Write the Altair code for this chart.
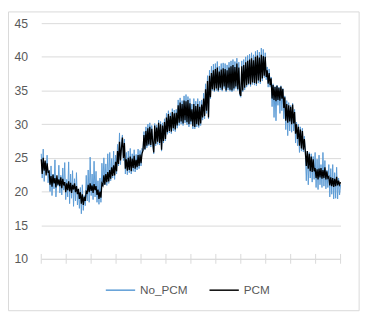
import altair as alt
import pandas as pd

# ---- data (one sample per pixel column, evenly spaced) ----
series_names = ["No_PCM", "PCM"]
series_colors = ["#5B9BD5", "#000000"]
y_ticks = [10, 15, 20, 25, 30, 35, 40, 45]
x_ticks = list(range(13))

no_pcm = [
    25.6, 22.0, 26.3, 21.5, 24.0, 22.8, 25.4, 21.3, 23.2, 20.0,
    23.8, 19.4, 22.6, 20.4, 24.7, 19.2, 22.0, 20.8, 23.9, 19.8,
    22.4, 19.5, 23.5, 20.2, 24.3, 18.8, 21.8, 19.2, 24.4, 18.2,
    22.6, 19.0, 23.1, 17.8, 21.9, 18.6, 22.8, 18.0, 20.2, 17.5,
    20.6, 16.7, 21.0, 17.2, 19.4, 17.9, 22.4, 18.6, 23.2, 18.4,
    25.1, 19.4, 22.6, 18.8, 24.5, 19.2, 23.0, 18.4, 21.6, 18.1,
    22.0, 18.4, 24.2, 20.8, 25.0, 21.0, 24.1, 20.9, 25.6, 21.2,
    25.8, 21.6, 24.9, 22.0, 26.0, 21.8, 25.4, 22.6, 27.0, 23.8,
    28.7, 24.0, 27.4, 28.4, 24.6, 27.8, 22.6, 25.8, 22.5, 26.0,
    22.8, 26.4, 22.6, 25.6, 23.0, 26.2, 22.9, 25.5, 23.2, 26.3,
    23.4, 26.1, 23.8, 26.4, 26.0, 28.9, 26.2, 29.6, 26.5, 30.0,
    26.8, 30.2, 26.6, 29.8, 27.0, 25.6, 30.1, 26.8, 29.9, 27.0,
    30.6, 26.9, 30.4, 26.0, 30.2, 27.2, 30.8, 27.5, 31.6, 28.5,
    32.0, 28.7, 31.7, 28.6, 32.3, 29.0, 32.1, 28.9, 32.2, 29.4,
    33.6, 29.8, 33.9, 30.0, 33.5, 29.8, 34.2, 30.2, 34.4, 29.9,
    34.1, 29.6, 33.8, 30.0, 33.0, 29.3, 33.8, 29.3, 33.4, 29.6,
    33.8, 29.5, 33.4, 29.8, 33.6, 30.6, 34.6, 30.8, 36.0, 31.6,
    37.2, 30.8, 38.0, 33.8, 38.6, 35.0, 38.9, 34.8, 39.0, 35.0,
    39.3, 34.8, 38.6, 35.1, 39.0, 34.9, 39.1, 35.3, 39.0, 34.8,
    38.8, 35.1, 39.2, 34.9, 39.4, 34.8, 39.6, 35.0, 39.3, 35.3,
    39.8, 35.0, 39.2, 34.3, 34.0, 39.4, 34.8, 39.6, 35.1, 40.0,
    35.5, 40.2, 35.8, 40.4, 35.6, 40.6, 35.9, 40.3, 35.8, 40.8,
    35.7, 41.0, 36.1, 40.7, 36.0, 41.3, 36.4, 41.1, 36.9, 40.6,
    36.6, 38.5, 35.5, 38.2, 35.5, 37.0, 32.6, 36.0, 31.0, 35.6,
    30.5, 35.8, 32.8, 35.5, 31.6, 35.7, 32.0, 35.3, 30.8, 34.2,
    29.2, 33.5, 28.3, 33.2, 29.0, 32.8, 28.8, 33.1, 29.0, 32.2,
    27.2, 30.3, 26.8, 30.0, 25.8, 29.6, 26.0, 29.4, 25.9, 28.2,
    25.6, 21.6, 26.0, 21.0, 25.8, 22.0, 25.6, 21.4, 25.2, 21.8,
    25.8, 20.6, 24.8, 20.3, 25.4, 21.0, 24.0, 20.6, 25.8, 20.8,
    24.6, 20.4, 23.2, 20.6, 24.0, 19.2, 23.4, 19.6, 24.0, 18.9,
    22.8, 19.0, 23.6, 18.9, 22.0, 19.5, 21.0,
]

pcm = [
    24.8, 22.6, 25.0, 23.1, 24.6, 22.4, 24.2, 22.9, 23.0, 21.0,
    22.3, 20.7, 22.5, 21.2, 22.0, 20.6, 22.4, 21.0, 21.8, 20.8,
    22.1, 20.5, 21.9, 20.9, 21.4, 19.9, 21.2, 20.2, 21.5, 20.0,
    21.3, 19.8, 21.0, 20.3, 21.2, 19.9, 20.8, 19.6, 20.4, 18.9,
    19.9, 18.2, 19.6, 18.0, 19.2, 18.6, 20.0, 19.8, 21.0, 19.9,
    21.2, 20.1, 20.9, 19.8, 21.1, 20.2, 20.8, 19.5, 20.3, 18.9,
    20.0, 19.1, 21.2, 20.9, 22.4, 21.0, 22.6, 21.4, 22.9, 21.5,
    23.2, 21.9, 23.6, 22.3, 23.9, 22.4, 24.4, 23.0, 26.0, 24.1,
    27.4, 24.6, 26.5, 28.0, 25.0, 27.2, 23.4, 24.8, 23.1, 25.0,
    23.2, 25.2, 23.0, 24.9, 23.5, 25.3, 23.4, 24.7, 23.6, 25.4,
    23.8, 25.5, 24.2, 25.6, 26.1, 28.4, 26.3, 29.0, 26.8, 29.4,
    27.0, 29.6, 26.9, 29.3, 27.3, 25.8, 29.8, 27.1, 29.5, 27.4,
    30.2, 27.2, 30.0, 26.2, 29.8, 27.5, 30.3, 27.8, 31.0, 28.8,
    31.5, 29.0, 31.2, 28.9, 31.8, 29.4, 31.6, 29.2, 31.7, 29.8,
    32.8, 30.2, 33.2, 30.4, 33.0, 30.1, 33.5, 30.6, 33.4, 30.3,
    33.6, 30.0, 33.1, 30.4, 32.2, 29.7, 33.0, 29.6, 32.7, 30.0,
    33.0, 29.8, 32.6, 30.1, 32.9, 31.0, 33.8, 31.2, 35.2, 32.0,
    36.4, 31.0, 37.2, 34.0, 37.6, 35.2, 38.0, 35.0, 38.2, 35.3,
    38.4, 35.0, 37.8, 35.4, 38.1, 35.1, 38.3, 35.6, 38.2, 35.0,
    38.0, 35.4, 38.4, 35.1, 38.6, 35.0, 38.8, 35.3, 38.5, 35.6,
    39.0, 35.2, 38.4, 34.6, 34.2, 38.6, 35.0, 38.8, 35.4, 39.2,
    35.8, 39.4, 36.0, 39.6, 35.9, 39.8, 36.2, 39.5, 36.1, 40.0,
    36.0, 40.2, 36.5, 39.9, 36.3, 40.3, 36.8, 40.1, 37.2, 40.0,
    37.0, 38.0, 36.0, 37.6, 35.8, 36.8, 33.8, 35.8, 33.6, 35.5,
    33.4, 35.7, 33.6, 35.4, 33.5, 35.6, 33.8, 35.2, 32.4, 34.0,
    30.5, 33.0, 30.2, 32.8, 30.4, 32.6, 30.0, 32.9, 30.1, 31.8,
    28.6, 30.0, 27.8, 29.6, 26.8, 29.2, 26.4, 29.0, 26.2, 27.8,
    25.9, 23.8, 26.0, 23.4, 25.6, 23.0, 25.2, 22.9, 24.8, 23.0,
    23.5, 22.0, 23.3, 21.8, 23.4, 22.1, 23.5, 21.9, 23.2, 22.0,
    23.6, 21.8, 23.0, 22.0, 22.2, 20.9, 22.1, 20.8, 22.0, 20.7,
    21.9, 20.8, 22.2, 20.9, 21.6, 21.0, 21.4,
]

rows = []
for name, vals in ((series_names[0], no_pcm), (series_names[1], pcm)):
    n = len(vals)
    for i, v in enumerate(vals):
        rows.append({"t": i * x_ticks[-1] / (n - 1), "temp": v, "series": name})
df = pd.DataFrame(rows)

FONT = "Liberation Sans"
GRID = "#d9d9d9"
TXT = "#595959"

x_scale = alt.Scale(domain=[x_ticks[0], x_ticks[-1]], nice=False, zero=False)
y_scale = alt.Scale(domain=[y_ticks[0], y_ticks[-1]], nice=False, zero=False)
color_scale = alt.Scale(domain=series_names, range=series_colors)

x_enc = alt.X(
    "t:Q", scale=x_scale,
    axis=alt.Axis(values=x_ticks, labels=False, ticks=False, grid=False,
                  domainColor=GRID, domainWidth=1, title=None),
)
y_enc = alt.Y(
    "temp:Q", scale=y_scale,
    axis=alt.Axis(values=y_ticks, domain=False, ticks=False, tickSize=0,
                  gridColor=GRID, gridWidth=1, labelColor=TXT, labelFont=FONT,
                  labelFontSize=12.5, labelPadding=14, title=None),
)
color_enc = alt.Color(
    "series:N", scale=color_scale,
    legend=alt.Legend(orient="none", legendX=65, legendY=257, direction="horizontal",
                      title=None, symbolType="stroke", symbolSize=900,
                      symbolStrokeWidth=1.5, labelFont=FONT, labelFontSize=12,
                      labelColor=TXT, labelOffset=4, columnPadding=19),
)

base = alt.Chart(df)
blue = base.transform_filter(alt.datum.series == series_names[0]).mark_line(
    strokeWidth=1).encode(x=x_enc, y=y_enc, color=color_enc)
black = base.transform_filter(alt.datum.series == series_names[1]).mark_line(
    strokeWidth=1.3).encode(x=x_enc, y=y_enc, color=color_enc)

ticks = alt.Chart(pd.DataFrame({"t": x_ticks})).mark_rule(color=GRID, strokeWidth=1).encode(
    x=alt.X("t:Q", scale=x_scale), y=alt.value(236), y2=alt.value(246))

border = alt.Chart(pd.DataFrame({"a": [0]})).mark_rect(
    fillOpacity=0, stroke=GRID, strokeWidth=1).encode(
    x=alt.value(-33.5), x2=alt.value(325), y=alt.value(-11.5), y2=alt.value(294))

chart = alt.layer(border, ticks, blue, black).properties(
    width=306, height=241,
    autosize=alt.AutoSizeParams(type="none"),
    padding={"left": 34, "top": 12, "right": 25, "bottom": 59},
).configure_view(stroke=None)

chart.save("out.html", embed_options={"renderer": "svg", "actions": False})
